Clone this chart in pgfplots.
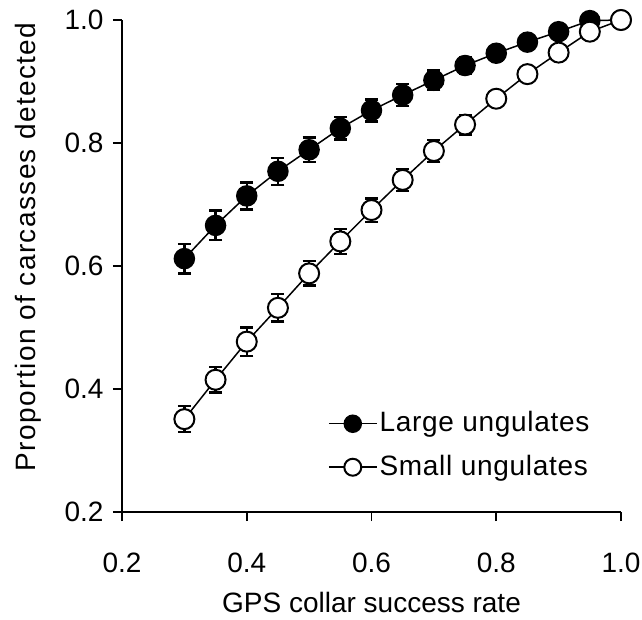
\documentclass[border=0pt]{standalone}
\usepackage{pgfplots}
\pgfplotsset{compat=1.18}
\usepackage{pgfplotstable}
\usepackage{fontspec}
\setmainfont{Liberation Sans}
\newfontfamily\widefont[LetterSpace=5]{Liberation Sans}
\newfontfamily\legfont[LetterSpace=2.5]{Liberation Sans}
\pgfplotstableread{
x y e
0.30 0.612 0.024
0.35 0.666 0.024
0.40 0.714 0.022
0.45 0.754 0.022
0.50 0.789 0.020
0.55 0.824 0.018
0.60 0.853 0.018
0.65 0.878 0.018
0.70 0.902 0.016
0.75 0.926 0.014
0.80 0.946 0.012
0.85 0.964 0.010
0.90 0.981 0.008
0.95 0.999 0.005
1.00 1.000 0.000
}\largetab
\pgfplotstableread{
x y e
0.30 0.351 0.021
0.35 0.415 0.021
0.40 0.477 0.023
0.45 0.532 0.022
0.50 0.588 0.020
0.55 0.640 0.020
0.60 0.691 0.019
0.65 0.740 0.018
0.70 0.787 0.018
0.75 0.830 0.016
0.80 0.872 0.012
0.85 0.912 0.010
0.90 0.947 0.008
0.95 0.981 0.005
1.00 1.000 0.000
}\smalltab
\begin{document}
\fontsize{28}{33}\selectfont
\begin{tikzpicture}
\useasboundingbox (-122pt,-107pt) rectangle (520pt,512pt);
\begin{axis}[
  at={(0,0)}, anchor=south west,
  scale only axis, width=499pt, height=492pt,
  xmin=0.2, xmax=1.0, ymin=0.2, ymax=1.0,
  axis x line*=bottom, axis y line*=left,
  axis line style={line width=1.8pt, -},
  xtick={0.2,0.4,0.6,0.8,1.0}, ytick={0.2,0.4,0.6,0.8,1.0},
  tick align=outside, major tick length=9pt,
  tick style={line width=1.6pt, black},
  /pgf/number format/.cd, fixed, fixed zerofill, precision=1, assume math mode=true,
  /pgfplots/.cd,
  ticklabel style={font=\fontsize{28}{33}\selectfont},
  xticklabel style={yshift=-22pt},
  clip=false,
  xlabel={GPS collar success rate},
  ylabel={Proportion of carcasses detected},
  label style={font=\fontsize{28}{33}\selectfont},
  xlabel style={at={(axis description cs:0.5,-0.2033)}, anchor=base},
  ylabel style={at={(axis description cs:-0.188,0.539)}, anchor=center, font=\widefont\fontsize{28}{33}\selectfont},
  legend style={draw=none, fill=none, at={(axis cs:0.53,0.367)}, anchor=north west,
    row sep=15pt, font=\legfont\fontsize{28}{33}\selectfont, inner sep=0pt},
  legend cell align=left,
  legend image code/.code={\draw[mark repeat=2,mark phase=2,#1, mark size=8.5pt] plot coordinates {(0pt,0pt) (24pt,0pt) (48pt,0pt)};},
  error bars/y dir=both, error bars/y explicit,
  error bars/error bar style={line width=2.4pt, black},
  error bars/error mark options={rotate=90, mark size=6.5pt, line width=2.4pt, black},
]
\addplot[black, line width=1.5pt, mark=*, mark size=10pt, mark options={fill=black, draw=black, line width=1.5pt}]
  table[x=x, y=y, y error=e] {\largetab};
\addlegendentry{Large ungulates}
\addplot[black, line width=1.5pt, mark=*, mark size=10pt, mark options={fill=white, draw=black, line width=2pt}]
  table[x=x, y=y, y error=e] {\smalltab};
\addlegendentry{Small ungulates}
\end{axis}
\end{tikzpicture}
\end{document}
